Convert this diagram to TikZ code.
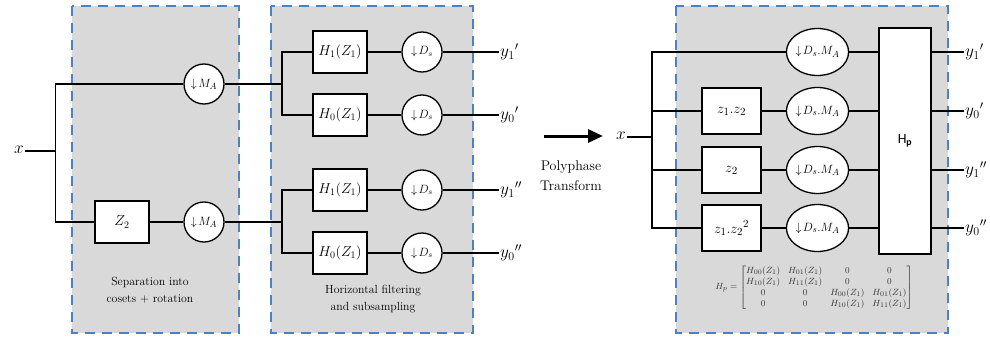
\documentclass[tikz,border=0pt]{standalone}
\usepackage{amsmath}
\usepackage{fontspec}
\newfontfamily\calibrifont{Carlito}
\usetikzlibrary{arrows.meta,shapes.geometric}
\definecolor{panelgray}{RGB}{217,217,217}
\definecolor{panelblue}{RGB}{79,129,189}

\begin{document}
\begin{tikzpicture}[x=1pt,y=-1pt,
  panel/.style={fill=panelgray, draw=panelblue, line width=2.2pt, dash pattern=on 10pt off 7pt},
  wire/.style={line width=1.3pt},
  blockbox/.style={draw, fill=white, line width=1.3pt, minimum width=54pt, minimum height=42pt,
    inner sep=0pt, font=\fontsize{14.5}{16}\selectfont},
  polybox/.style={blockbox, minimum width=59pt, minimum height=46pt, font=\fontsize{15}{17}\selectfont},
  downcirc/.style={draw, fill=white, circle, line width=1.3pt, minimum size=40pt, inner sep=0pt},
  downell/.style={draw, fill=white, ellipse, line width=1.3pt, minimum width=61pt,
    minimum height=47pt, inner sep=0pt, font=\fontsize{12.5}{14}\selectfont},
  sig/.style={font=\fontsize{17}{19}\selectfont, inner sep=1pt},
  caption/.style={align=center, font=\fontsize{11.8}{17}\selectfont}
]
\useasboundingbox (0,0) rectangle (990,337);

% shaded stage panels
\path[panel] (72,6) rectangle (239,333);
\path[panel] (271,6) rectangle (473,333);
\path[panel] (676,6) rectangle (948,333);

% ---- coset separation + rotation ----
\node[sig, anchor=east] (xin) at (25,150) {$x$};
\coordinate (split) at (55.5,151);
\node[downcirc, font=\fontsize{13}{15}\selectfont] (ma1) at (204,84) {$\downarrow\!M_A$};
\node[blockbox] (z2) at (122,222) {$Z_2$};
\node[downcirc, font=\fontsize{13}{15}\selectfont] (ma2) at (204,222) {$\downarrow\!M_A$};

\draw[wire] (xin.east |- split) -- (split);
\draw[wire] (ma1.west) -| (split) |- (z2.west);
\draw[wire] (z2.east) -- (ma2.west);

% ---- horizontal filtering and subsampling ----
\coordinate (f1) at (282,84);
\coordinate (f2) at (282,222);
\node[blockbox] (h1a) at (340,52)  {$H_1(Z_1)$};
\node[blockbox] (h0a) at (340,115) {$H_0(Z_1)$};
\node[blockbox] (h1b) at (340,190) {$H_1(Z_1)$};
\node[blockbox] (h0b) at (340,253) {$H_0(Z_1)$};
\foreach \n/\yy in {da/52, db/115, dc/190, dd/253}
  \node[downcirc, font=\fontsize{12}{14}\selectfont] (\n) at (422,\yy) {$\downarrow\!D_s$};
\node[sig, anchor=west] (ya) at (499,52)  {${y_1}'$};
\node[sig, anchor=west] (yb) at (499,115) {${y_0}'$};
\node[sig, anchor=west] (yc) at (499,190) {${y_1}''$};
\node[sig, anchor=west] (yd) at (499,253) {${y_0}''$};

\draw[wire] (ma1.east) -- (f1);
\draw[wire] (ma2.east) -- (f2);
\draw[wire] (h1a.west) -| (f1) |- (h0a.west);
\draw[wire] (h1b.west) -| (f2) |- (h0b.west);
\draw[wire] (h1a.east) -- (da.west) (da.east) -- (ya.west);
\draw[wire] (h0a.east) -- (db.west) (db.east) -- (yb.west);
\draw[wire] (h1b.east) -- (dc.west) (dc.east) -- (yc.west);
\draw[wire] (h0b.east) -- (dd.west) (dd.east) -- (yd.west);

\node[caption] (cap1) at (150,290.5) {Separation into\\cosets + rotation};
\node[caption] (cap2) at (373,299.5) {Horizontal filtering\\and subsampling};

% ---- transform arrow ----
\coordinate (arrA) at (544,136);
\coordinate (arrB) at (603,136);
\draw[line width=3pt, -{Triangle[length=15pt,width=13pt]}] (arrA) -- (arrB);
\node[align=center, font=\fontsize{14}{20}\selectfont] (ptxt) at (571,176) {Polyphase\\Transform};

% ---- polyphase structure ----
\node[sig, anchor=east] (x2) at (627,136) {$x$};
\coordinate (split2) at (652,137);
\node[polybox] (b2) at (731.5,111) {$z_1.z_2$};
\node[polybox] (b3) at (731.5,170) {$z_2$};
\node[polybox] (b4) at (731.5,228) {$z_1.{z_2}^2$};
\foreach \n/\yy in {e1/52, e2/111, e3/170, e4/228}
  \node[downell] (\n) at (817.5,\yy) {$\downarrow\!D_s.M_A$};
\node[draw, fill=white, line width=1.3pt, minimum width=52pt, minimum height=226pt, inner sep=0pt,
  font=\calibrifont\fontsize{14}{16}\selectfont] (hp) at (905,141) {H\textsubscript{\textbf{p}}};
\node[sig, anchor=west] (ra) at (964,52)  {${y_1}'$};
\node[sig, anchor=west] (rb) at (964,111) {${y_0}'$};
\node[sig, anchor=west] (rc) at (964,170) {${y_1}''$};
\node[sig, anchor=west] (rd) at (964,228) {${y_0}''$};

\draw[wire] (x2.east |- split2) -- (split2);
\draw[wire] (e1.west) -| (split2) |- (b4.west);
\draw[wire] (split2 |- b2.west) -- (b2.west);
\draw[wire] (split2 |- b3.west) -- (b3.west);
\draw[wire] (b2.east) -- (e2.west);
\draw[wire] (b3.east) -- (e3.west);
\draw[wire] (b4.east) -- (e4.west);
\foreach \e/\r in {e1/ra, e2/rb, e3/rc, e4/rd} {
  \draw[wire] (\e.east) -- (hp.west |- \e.east);
  \draw[wire] (hp.east |- \r.west) -- (\r.west);
}

\node[font=\fontsize{9.5}{11}\selectfont, text=black!80] (hpm) at (814,287.5)
  {$\setlength{\arraycolsep}{4pt}H_p=\begin{bmatrix}
    H_{00}(Z_1) & H_{01}(Z_1) & 0 & 0\\
    H_{10}(Z_1) & H_{11}(Z_1) & 0 & 0\\
    0 & 0 & H_{00}(Z_1) & H_{01}(Z_1)\\
    0 & 0 & H_{10}(Z_1) & H_{11}(Z_1)
  \end{bmatrix}$};
\end{tikzpicture}
\end{document}
